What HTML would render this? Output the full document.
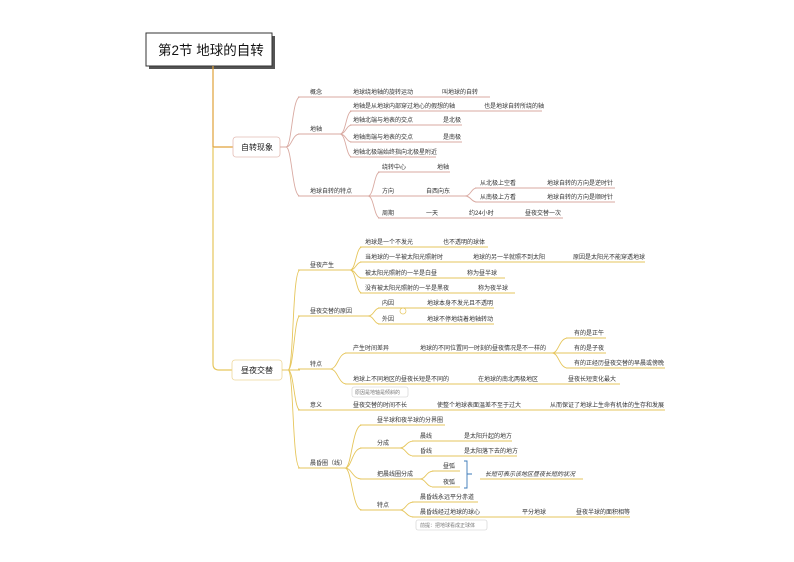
<!DOCTYPE html>
<html><head><meta charset="utf-8"><style>
html,body{margin:0;padding:0;background:#fff;}
svg{display:block}
text{font-family:"Liberation Sans","Noto Sans CJK SC",sans-serif;font-size:6px;fill:#333;}
.a{stroke:#d9aaa2;stroke-width:0.9;fill:none}
.b{stroke:#e6c65c;stroke-width:0.9;fill:none}
</style></head><body>
<svg width="794" height="562" viewBox="0 0 794 562" xmlns="http://www.w3.org/2000/svg">
<rect x="149" y="36" width="126" height="33" fill="#555"/>
<rect x="146" y="33" width="126" height="33" fill="#fff" stroke="#333" stroke-width="1"/>
<text x="158" y="55" style="font-size:13.5px;fill:#111">第2节 地球的自转</text>
<path d="M213,66 V147 M213,147 H233" stroke="#e0a23a" stroke-width="1.2" fill="none"/>
<path d="M213,147 V364 Q213,370 219,370 H232" stroke="#e6c65c" stroke-width="1.2" fill="none"/>
<!-- section 1 -->
<rect x="233" y="137" width="47" height="20" rx="3" fill="#fff" stroke="#e3bdb5" stroke-width="0.8"/>
<text x="241" y="150" style="font-size:8px;fill:#222">自转现象</text>
<path class="a" d="M280,147 H286 C292,147 292,97 300,97 M286,147 C292,147 292,134 300,134 M286,147 C292,147 292,196 300,196"/>
<path class="a" d="M298,97 H490 M298,134 H340 M298,196 H368"/>
<path class="a" d="M340,134 C346,134 346,111 352,111 M340,134 C346,134 346,125 352,125 M340,134 C346,134 346,142 352,142 M340,134 C346,134 346,157 352,157"/>
<path class="a" d="M350,111 H542 M350,125 H462 M350,142 H462 M350,157 H436"/>
<path class="a" d="M368,196 C374,196 374,172 380,172 M368,196 H380 M368,196 C374,196 374,218 380,218"/>
<path class="a" d="M378,172 H450 M378,196 H465 M378,218 H563"/>
<path class="a" d="M465,196 C471,196 471,188 477,188 M465,196 C471,196 471,202 477,202 M475,188 H615 M475,202 H615"/>
<text x="310" y="94">概念</text><text x="353" y="94">地球绕地轴的旋转运动</text><text x="442" y="94">叫地球的自转</text>
<text x="310" y="131">地轴</text>
<text x="353" y="108">地轴是从地球内部穿过地心的假想的轴</text><text x="484" y="108">也是地球自转所绕的轴</text>
<text x="353" y="122">地轴北端与地表的交点</text><text x="443" y="122">是北极</text>
<text x="353" y="139">地轴南端与地表的交点</text><text x="443" y="139">是南极</text>
<text x="353" y="154">地轴北极端始终指向北极星附近</text>
<text x="310" y="193">地球自转的特点</text>
<text x="382" y="169">绕转中心</text><text x="437" y="169">地轴</text>
<text x="382" y="193">方向</text><text x="426" y="193">自西向东</text>
<text x="480" y="185">从北极上空看</text><text x="547" y="185">地球自转的方向是逆时针</text>
<text x="480" y="199">从南极上方看</text><text x="547" y="199">地球自转的方向是顺时针</text>
<text x="382" y="215">周期</text><text x="426" y="215">一天</text><text x="469" y="215">约24小时</text><text x="525" y="215">昼夜交替一次</text>
<!-- section 2 -->
<rect x="232" y="360" width="50" height="20" rx="3" fill="#fff" stroke="#eed79a" stroke-width="0.8"/>
<text x="241" y="373" style="font-size:8px;fill:#222">昼夜交替</text>
<path class="b" d="M282,370 H288 C294,370 292,270 300,270 M288,370 C294,370 294,316 300,316 M288,370 H300 M288,370 C294,370 294,410 300,410 M288,370 C294,370 292,468 300,468"/>
<path class="b" d="M298,270 H350 M298,316 H368 M298,369 H330 M298,410 H665 M298,468 H345"/>
<path class="b" d="M350,270 C356,270 356,247 362,247 M350,270 C356,270 356,262 362,262 M350,270 C356,270 356,278 362,278 M350,270 C356,270 356,293 362,293"/>
<path class="b" d="M360,247 H488 M360,262 H645 M360,278 H505 M360,293 H515"/>
<path class="b" d="M368,316 C374,316 374,308 380,308 M368,316 C374,316 374,324 380,324 M378,308 H494 M378,324 H494"/>
<circle cx="403" cy="311" r="3" fill="#fff" stroke="#e6c65c" stroke-width="0.7"/>
<path class="b" d="M330,369 C338,369 338,353 347,353 M330,369 C338,369 338,384 347,384 M345,353 H552 M345,384 H620"/>
<path class="b" d="M552,353 C559,353 559,338 568,338 M552,353 H568 M552,353 C559,353 559,368 568,368 M566,338 H606 M566,353 H606 M566,368 H665"/>
<rect x="352" y="387" width="56" height="10" rx="2" fill="#fff" stroke="#ccc" stroke-width="0.6"/>
<text x="355" y="394" style="font-size:5px;fill:#777">原因是地轴是倾斜的</text>
<path class="b" d="M345,468 C352,468 352,425 362,425 M345,468 C352,468 352,448 362,448 M345,468 C352,468 352,479 362,479 M345,468 C352,468 352,510 362,510"/>
<path class="b" d="M360,425 H445 M360,448 H400 M360,479 H420 M360,510 H400"/>
<path class="b" d="M400,448 C406,448 406,441 414,441 M400,448 C406,448 406,456 414,456 M412,441 H512 M412,456 H517"/>
<path class="b" d="M420,479 C426,479 426,471 434,471 M420,479 C426,479 426,487 434,487 M432,471 H460 M432,487 H460"/>
<path class="b" d="M400,510 C406,510 406,502 414,502 M400,510 C406,510 406,517 414,517 M412,502 H478 M412,517 H630"/>
<path d="M464,461 H467 V488 H464 M467,474 H472" stroke="#3a78b8" stroke-width="0.9" fill="none"/>
<path class="b" d="M480,479 H583"/>
<text x="485" y="476" style="font-style:italic">长短可表示该地区昼夜长短的状况</text>
<rect x="416" y="520" width="71" height="10" rx="2" fill="#fff" stroke="#ccc" stroke-width="0.6"/>
<text x="420" y="527" style="font-size:5px;fill:#777">前提：把地球看成正球体</text>
<text x="310" y="267">昼夜产生</text>
<text x="365" y="244">地球是一个不发光</text><text x="443" y="244">也不透明的球体</text>
<text x="365" y="259">当地球的一半被太阳光照射时</text><text x="473" y="259">地球的另一半就照不到太阳</text><text x="573" y="259">原因是太阳光不能穿透地球</text>
<text x="365" y="275">被太阳光照射的一半是白昼</text><text x="467" y="275">称为昼半球</text>
<text x="365" y="290">没有被太阳光照射的一半是黑夜</text><text x="478" y="290">称为夜半球</text>
<text x="310" y="313">昼夜交替的原因</text>
<text x="382" y="305">内因</text><text x="427" y="305">地球本身不发光且不透明</text>
<text x="382" y="321">外因</text><text x="427" y="321">地球不停地绕着地轴转动</text>
<text x="310" y="366">特点</text>
<text x="353" y="350">产生时间差异</text><text x="420" y="350">地球的不同位置同一时刻的昼夜情况是不一样的</text>
<text x="574" y="335">有的是正午</text><text x="574" y="350">有的是子夜</text><text x="574" y="365">有的正经历昼夜交替的早晨或傍晚</text>
<text x="353" y="381">地球上不同地区的昼夜长短是不同的</text><text x="478" y="381">在地球的南北两极地区</text><text x="568" y="381">昼夜长短变化最大</text>
<text x="310" y="407">意义</text><text x="353" y="407">昼夜交替的时间不长</text><text x="437" y="407">使整个地球表面温差不至于过大</text><text x="550" y="407">从而保证了地球上生命有机体的生存和发展</text>
<text x="310" y="465">晨昏圈（线）</text>
<text x="377" y="422">昼半球和夜半球的分界圈</text>
<text x="377" y="445">分成</text>
<text x="420" y="438">晨线</text><text x="464" y="438">是太阳升起的地方</text>
<text x="420" y="453">昏线</text><text x="464" y="453">是太阳落下去的地方</text>
<text x="377" y="476">把晨线圈分成</text>
<text x="443" y="468">昼弧</text><text x="443" y="484">夜弧</text>
<text x="377" y="507">特点</text>
<text x="420" y="499">晨昏线永远平分赤道</text>
<text x="420" y="514">晨昏线经过地球的球心</text><text x="522" y="514">平分地球</text><text x="576" y="514">昼夜半球的面积相等</text>
</svg>
</body></html>
